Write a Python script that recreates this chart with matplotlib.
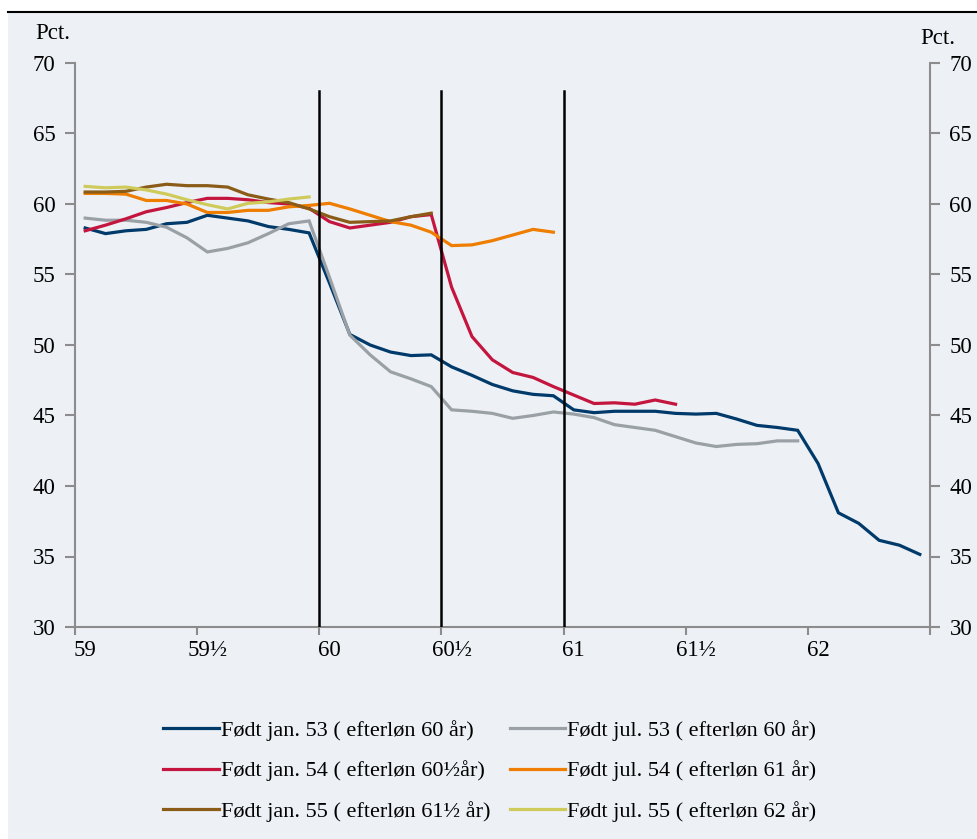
import numpy as np
import matplotlib
matplotlib.use("Agg")
import matplotlib.pyplot as plt
from matplotlib.lines import Line2D

plt.rcParams["font.family"] = ["Liberation Serif", "DejaVu Serif"]

# alder i maaneder fra 59 aar (kategoriakse, en kategori pr. maaned)
n_maaneder = 42
alder = 59 + np.arange(n_maaneder) / 12

jan53 = [58.3, 57.9, 58.1, 58.2, 58.6, 58.7, 59.2, 59.0, 58.8, 58.4, 58.2, 57.95,
         54.4, 50.75, 50.0, 49.5, 49.25, 49.3, 48.45, 47.85, 47.2, 46.75, 46.5, 46.4,
         45.4, 45.2, 45.3, 45.3, 45.3, 45.15, 45.1, 45.15, 44.75, 44.3, 44.15, 43.95,
         41.6, 38.1, 37.35, 36.15, 35.8, 35.15]
jul53 = [59.0, 58.85, 58.85, 58.7, 58.35, 57.6, 56.6, 56.85, 57.25, 57.9, 58.6, 58.8,
         54.8, 50.7, 49.3, 48.1, 47.6, 47.05, 45.4, 45.3, 45.15, 44.8, 45.0, 45.25,
         45.1, 44.85, 44.35, 44.15, 43.95, 43.5, 43.05, 42.8, 42.95, 43.0, 43.2, 43.2]
jan54 = [58.1, 58.5, 58.95, 59.45, 59.75, 60.1, 60.4, 60.4, 60.3, 60.1, 60.0, 59.7,
         58.75, 58.3, 58.5, 58.7, 59.1, 59.25, 54.1, 50.6, 48.95, 48.05, 47.7, 47.05,
         46.45, 45.85, 45.9, 45.8, 46.1, 45.8]
jul54 = [60.75, 60.75, 60.7, 60.25, 60.25, 60.0, 59.4, 59.4, 59.55, 59.55, 59.8, 59.9,
         60.05, 59.65, 59.2, 58.75, 58.5, 58.0, 57.05, 57.1, 57.4, 57.8, 58.2, 58.0]
jan55 = [60.85, 60.85, 60.9, 61.2, 61.4, 61.3, 61.3, 61.2, 60.65, 60.35, 60.1, 59.65,
         59.1, 58.7, 58.75, 58.8, 59.1, 59.35]
jul55 = [61.25, 61.15, 61.2, 61.0, 60.7, 60.3, 59.95, 59.65, 60.05, 60.15, 60.35, 60.5]

serier = [
    ("Født jan. 53 ( efterløn 60 år)", jan53, "#003a6b"),
    ("Født jul. 53 ( efterløn 60 år)", jul53, "#9aa1a6"),
    ("Født jan. 54 ( efterløn 60½år)", jan54, "#c4153f"),
    ("Født jul. 54 ( efterløn 61 år)", jul54, "#ee7d00"),
    ("Født jan. 55 ( efterløn 61½ år)", jan55, "#8a5c17"),
    ("Født jul. 55 ( efterløn 62 år)", jul55, "#cfcb5b"),
]

# lodrette streger ved efterloensalder
lodrette = [60 - 1 / 24, 60.5 - 1 / 24, 61 - 1 / 24]
lodret_top = 68

xlabels = ["59", "59½", "60", "60½", "61", "61½", "62"]
xlabel_pos = [59, 59.5, 60, 60.5, 61, 61.5, 62]
yticks = [30, 35, 40, 45, 50, 55, 60, 65, 70]

bg = "#edf1f5"
akse = "#8c8c8c"
fs = 16.5

fig = plt.figure(figsize=(9.78, 8.39), dpi=100)
fig.patch.set_facecolor("white")
# baggrundspanel og streg i toppen
fig.patches.append(plt.Rectangle((8 / 978, 0), 1, 1 - 12 / 839, transform=fig.transFigure,
                                 facecolor=bg, edgecolor="none", zorder=-10))
fig.add_artist(Line2D([8 / 978, 1], [1 - 12 / 839, 1 - 12 / 839], transform=fig.transFigure,
                      color="black", lw=1.5))

ax = fig.add_axes([75 / 978, 1 - 627 / 839, (930 - 75) / 978, (627 - 63) / 839])
ax.set_facecolor(bg)

for navn, vaerdier, farve in serier:
    ax.plot(alder[:len(vaerdier)], vaerdier, color=farve, lw=2.3, label=navn,
            solid_joinstyle="miter", zorder=3)

for x in lodrette:
    ax.plot([x, x], [30, lodret_top], color="black", lw=1.8, zorder=4)

ax.set_xlim(59 - 1 / 24, 59 + (n_maaneder - 1) / 12 + 1 / 24)
ax.set_ylim(30, 70)

for side in ["left", "right", "bottom"]:
    ax.spines[side].set_color(akse)
    ax.spines[side].set_linewidth(1.5)
ax.spines["top"].set_visible(False)

ax.set_xticks(np.arange(59 - 1 / 24, 62.46 + 0.01, 0.5))
ax.set_xticklabels([])
ax.set_xticks(xlabel_pos, minor=True)
ax.set_xticklabels(xlabels, minor=True)
ax.tick_params(axis="x", which="major", length=6, width=1.5, color=akse, direction="out")
ax.tick_params(axis="x", which="minor", length=0, pad=9, labelsize=fs)

ax.set_yticks(yticks)
ax.tick_params(axis="y", length=7, width=1.5, color=akse, direction="out",
               right=True, labelright=True, labelsize=fs, pad=7)

ax.text(-0.047, 1.052, "Pct.", transform=ax.transAxes, fontsize=fs, ha="left", va="center")
ax.text(1.03, 1.043, "Pct.", transform=ax.transAxes, fontsize=fs, ha="right", va="center")

# legend raekkefoelge: kolonnevis
handles, labels = ax.get_legend_handles_labels()
orden = [0, 2, 4, 1, 3, 5]
fig.legend([handles[i] for i in orden], [labels[i] for i in orden], ncol=2,
           loc="center", bbox_to_anchor=(490 / 978, 1 - 771 / 839), frameon=False,
           fontsize=16, handlelength=2.5, handletextpad=0.1, columnspacing=0.85,
           labelspacing=0.87)

fig.savefig("out.png", dpi=100, facecolor=fig.get_facecolor())
